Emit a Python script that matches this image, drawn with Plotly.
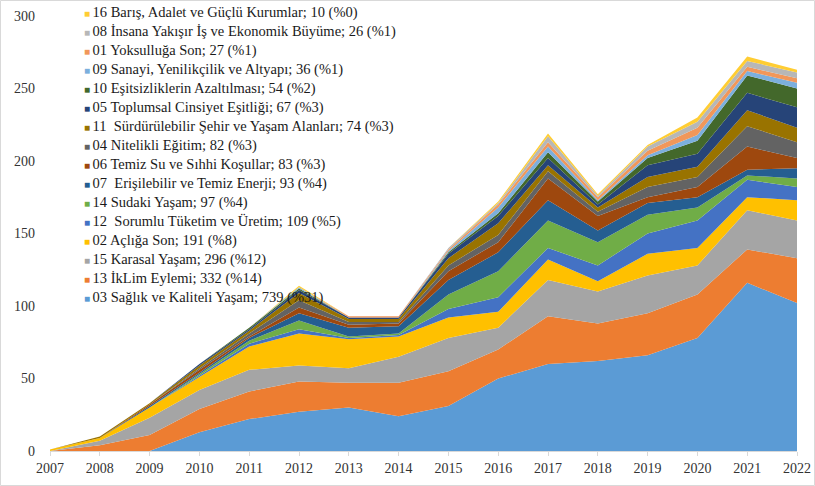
import plotly.graph_objects as go

years = list(range(2007, 2023))

# values per SDG series (bottom of stack first)
s03 = [0, 0, 0, 13, 22, 27, 30, 24, 31, 50, 60, 62, 66, 78, 116, 102]
s13 = [0, 4, 11, 16, 19, 21, 17, 23, 24, 20, 33, 26, 29, 30, 23, 31]
s15 = [0, 3, 12, 13, 15, 11, 10, 18, 23, 15, 25, 22, 26, 20, 27, 26]
s02 = [1, 2, 7, 9, 16, 22, 20, 14, 14, 11, 14, 7, 15, 12, 9, 14]
s12 = [0, 0, 0, 1, 2, 3, 1, 1, 6, 10, 8, 11, 14, 19, 12, 9]
s14 = [0, 0, 0, 1, 2, 6, 1, 1, 10, 18, 19, 16, 13, 9, 3, 6]
s07 = [0, 0, 1, 1, 2, 5, 6, 5, 10, 13, 14, 8, 8, 7, 4, 7]
s06 = [0, 0, 1, 2, 1, 4, 2, 2, 6, 7, 15, 10, 4, 7, 16, 7]
s04 = [0, 0, 0, 1, 2, 5, 2, 1, 4, 5, 5, 3, 7, 7, 14, 11]
s11 = [0, 1, 1, 2, 2, 5, 2, 2, 5, 8, 4, 3, 7, 7, 11, 10]
s05 = [0, 0, 0, 1, 1, 2, 1, 1, 3, 5, 5, 2, 8, 9, 12, 14]
s10 = [0, 0, 0, 0, 1, 1, 0, 0, 1, 2, 4, 2, 5, 9, 12, 13]
s09 = [0, 0, 0, 0, 0, 1, 0, 0, 1, 4, 4, 1, 2, 4, 3, 4]
s01 = [0, 0, 0, 0, 0, 0, 1, 1, 1, 2, 3, 2, 3, 5, 3, 3]
s08 = [0, 0, 0, 0, 0, 0, 0, 0, 1, 1, 4, 1, 3, 4, 4, 4]
s16 = [0, 0, 0, 0, 0, 1, 0, 0, 0, 1, 2, 1, 1, 3, 3, 2]

names = [
    "03 Sağlık ve Kaliteli Yaşam; 739 (%31)",
    "13 İkLim Eylemi; 332 (%14)",
    "15 Karasal Yaşam; 296 (%12)",
    "02 Açlığa Son; 191 (%8)",
    "12 \u00a0Sorumlu Tüketim ve Üretim; 109 (%5)",
    "14 Sudaki Yaşam; 97 (%4)",
    "07 \u00a0Erişilebilir ve Temiz Enerji; 93 (%4)",
    "06 Temiz Su ve Sıhhi Koşullar; 83 (%3)",
    "04 Nitelikli Eğitim; 82 (%3)",
    "11 \u00a0Sürdürülebilir Şehir ve Yaşam Alanları; 74 (%3)",
    "05 Toplumsal Cinsiyet Eşitliği; 67 (%3)",
    "10 Eşitsizliklerin Azaltılması; 54 (%2)",
    "09 Sanayi, Yenilikçilik ve Altyapı; 36 (%1)",
    "01 Yoksulluğa Son; 27 (%1)",
    "08 İnsana Yakışır İş ve Ekonomik Büyüme; 26 (%1)",
    "16 Barış, Adalet ve Güçlü Kurumlar; 10 (%0)",
]
series = [s03, s13, s15, s02, s12, s14, s07, s06, s04, s11, s05, s10, s09, s01, s08, s16]
colors = ["#5B9BD5", "#ED7D31", "#A5A5A5", "#FFC000", "#4472C4", "#70AD47",
          "#255E91", "#9E480E", "#636363", "#997300", "#264478", "#43682B",
          "#7CAFDD", "#F1975A", "#B7B7B7", "#FFCD33"]

FONT = "Liberation Serif, Times New Roman, serif"

fig = go.Figure()
for nm, vals, col in zip(names, series, colors):
    fig.add_trace(go.Scatter(
        x=years, y=vals, mode="lines", stackgroup="one",
        line=dict(width=0, color=col), fillcolor=col,
        name=nm, showlegend=False, hoverinfo="skip"))

# legend entries (top item = last series)
for nm, col in reversed(list(zip(names, colors))):
    fig.add_trace(go.Scatter(
        x=[None], y=[None], mode="markers",
        marker=dict(color="rgba(0,0,0,0)", size=1),
        name=(f"<span style='color:{col};font-size:10px'>■\u00a0</span>"
              f"<span style='font-family:Liberation Serif,serif;font-size:14.5px'>{nm}</span>"),
        showlegend=True))

fig.update_layout(
    width=815, height=486,
    margin=dict(l=50, r=18, t=16, b=35, autoexpand=False),
    paper_bgcolor="white", plot_bgcolor="white",
    font=dict(family=FONT, size=14, color="#333333"),
    showlegend=True,
    legend=dict(
        x=-0.008, y=1.042, xanchor="left", yanchor="top",
        bgcolor="rgba(0,0,0,0)", traceorder="normal",
        font=dict(family=FONT, size=12, color="#1a1a1a"),
        itemwidth=30, tracegroupgap=0, maxheight=480),
    xaxis=dict(
        range=[2007, 2022], tickmode="array", tickvals=years,
        ticktext=[str(y) for y in years],
        showgrid=False, zeroline=False, showline=True,
        linecolor="#D9D9D9", linewidth=1,
        ticks="outside", ticklen=4, tickcolor="#D9D9D9",
        tickfont=dict(family=FONT, size=14, color="#333333")),
    yaxis=dict(
        range=[0, 300], dtick=50, showgrid=False, zeroline=False,
        showline=False, ticks="", ticklabelstandoff=14,
        tickfont=dict(family=FONT, size=14, color="#333333")),
    shapes=[dict(type="rect", xref="paper", yref="paper",
                 x0=(0.5 - 50) / 747, x1=(814.5 - 50) / 747,
                 y0=-(486 - 451 - 0.5) / 435, y1=1 + (16 - 0.5) / 435,
                 line=dict(color="#D9D9D9", width=1), layer="below")],
)

fig.write_html("out.html", config={"displayModeBar": False},
               post_script="document.body.style.margin='0';")
